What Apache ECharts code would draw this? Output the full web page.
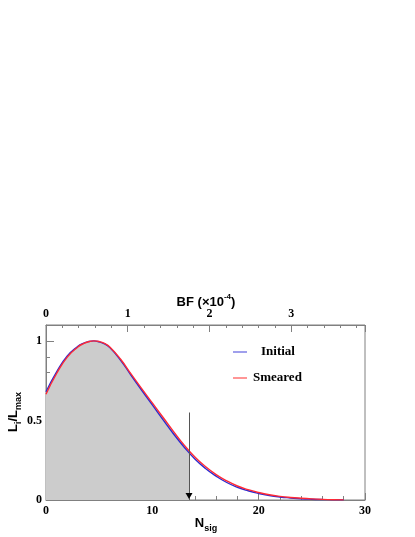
<!DOCTYPE html>
<html>
<head>
<meta charset="utf-8">
<script src="https://cdn.jsdelivr.net/npm/echarts@6/dist/echarts.min.js"></script>
<style>
  html, body { margin: 0; padding: 0; background: #fff; }
  #main { width: 415px; height: 537px; }
</style>
</head>
<body>
<div id="main"></div>
<script>
// N_sig sample points
let nSig = [0, 1, 2, 3, 3.5, 4, 4.5, 5, 5.5, 6, 7, 8, 9, 10, 11, 12, 13, 14, 15, 16, 17, 18, 19, 20,
            21, 22, 23, 24, 25, 26, 27, 28];
// L/Lmax, initial likelihood (blue)
let initialL = [0.68, 0.805, 0.905, 0.966, 0.985, 0.996, 1.0, 0.994, 0.981, 0.958, 0.88, 0.784, 0.69, 0.598,
                0.505, 0.415, 0.332, 0.258, 0.198, 0.15, 0.11, 0.08, 0.058, 0.041,
                0.028, 0.019, 0.013, 0.008, 0.005, 0.003, 0.0015, 0.0005];
// L/Lmax, smeared likelihood (red)
let smearedL = [0.665, 0.795, 0.898, 0.962, 0.982, 0.995, 1.0, 0.996, 0.984, 0.962, 0.886, 0.792, 0.70, 0.61,
                0.52, 0.43, 0.345, 0.27, 0.21, 0.16, 0.12, 0.088, 0.065, 0.047,
                0.033, 0.023, 0.016, 0.011, 0.007, 0.004, 0.002, 0.001];

// upper limit marker
let limitN = 13.45;
let limitL = 0.306;     // curve value at the limit
let arrowTop = 0.55;

// BF scale on the top axis (units of 1e-4 per signal event)
let bfPerN = 0.1301;
let xTicks = [0, 10, 20, 30];
let yTicks = [0, 0.5, 1];

let toPairs = (xs, ys) => xs.map((x, i) => [x, ys[i]]);
let initialData = toPairs(nSig, initialL);
let smearedData = toPairs(nSig, smearedL);
let fillData = smearedData.filter(p => p[0] <= limitN).concat([[limitN, limitL]]);

let frameColor = '#808080';
let serifLabel = { color: '#000', fontFamily: 'Liberation Serif', fontWeight: 'bold', fontSize: 12 };

let option = {
    backgroundColor: '#fff',
    animation: false,
    grid: {
        left: 46, right: 50, top: 325, bottom: 37,
        show: true, borderColor: frameColor, borderWidth: 1
    },
    xAxis: [
        {
            type: 'value', position: 'bottom',
            min: xTicks[0], max: xTicks[xTicks.length - 1], interval: 10,
            axisLine: { lineStyle: { color: frameColor, width: 1 } },
            axisTick: { inside: true, length: 7, lineStyle: { color: frameColor } },
            minorTick: { show: true, splitNumber: 5, length: 4, lineStyle: { color: frameColor } },
            splitLine: { show: false },
            axisLabel: Object.assign({ margin: 5 }, serifLabel)
        },
        {
            type: 'value', position: 'top',
            min: 0, max: xTicks[xTicks.length - 1] * bfPerN, interval: 1,
            axisLine: { lineStyle: { color: frameColor, width: 1 } },
            axisTick: { inside: true, length: 7, lineStyle: { color: frameColor } },
            minorTick: { show: true, splitNumber: 5, length: 3, lineStyle: { color: frameColor } },
            splitLine: { show: false },
            axisLabel: Object.assign({ margin: 5, showMaxLabel: false }, serifLabel)
        }
    ],
    yAxis: {
        type: 'value', min: yTicks[0], max: 1.1, interval: 0.5,
        axisLine: { show: true, lineStyle: { color: frameColor, width: 1 } },
        axisTick: { inside: true, length: 8, lineStyle: { color: frameColor } },
        minorTick: { show: true, splitNumber: 5, length: 4, lineStyle: { color: frameColor } },
        splitLine: { show: false },
        axisLabel: Object.assign({
            margin: 4, showMaxLabel: false,
            formatter: v => (yTicks.indexOf(v) >= 0 ? String(v) : '')
        }, serifLabel)
    },
    series: [
        {
            // shaded area up to the limit
            type: 'line', data: fillData, smooth: 0.5,
            symbol: 'none', lineStyle: { width: 0 },
            areaStyle: { color: '#cccccc', opacity: 1 },
            z: 1,
            markLine: {
                silent: true, animation: false,
                symbol: ['none', 'none'],
                label: { show: false },
                lineStyle: { color: '#555', width: 1, type: 'solid' },
                data: [[{ coord: [limitN, arrowTop] }, { coord: [limitN, 0] }]]
            },
            markPoint: {
                silent: true, animation: false,
                symbol: 'triangle', symbolRotate: 180, symbolSize: [7, 6], symbolOffset: [0, -4],
                itemStyle: { color: '#000' },
                label: { show: false },
                data: [{ coord: [limitN, 0] }]
            }
        },
        {
            name: 'Initial', type: 'line', data: initialData, smooth: 0.5,
            symbol: 'none', lineStyle: { color: '#2a2ad0', width: 1.4 }, z: 3
        },
        {
            name: 'Smeared', type: 'line', data: smearedData, smooth: 0.5,
            symbol: 'none', lineStyle: { color: '#ff2a35', width: 1.4 }, z: 4
        }
    ],
    graphic: [
        // legend
        { type: 'line', shape: { x1: 233, y1: 352, x2: 247, y2: 352 }, style: { stroke: '#6060e0', lineWidth: 1.2 } },
        { type: 'text', x: 261, y: 352, style: { text: 'Initial', font: 'bold 13px "Liberation Serif"', fill: '#000', verticalAlign: 'middle' } },
        { type: 'line', shape: { x1: 233, y1: 378, x2: 247, y2: 378 }, style: { stroke: '#ff5050', lineWidth: 1.2 } },
        { type: 'text', x: 253, y: 378, style: { text: 'Smeared', font: 'bold 13px "Liberation Serif"', fill: '#000', verticalAlign: 'middle' } },
        // axis titles
        {
            type: 'text', x: 206, y: 301,
            style: {
                text: '{a|BF (×10}{s|-4}{a|)}', align: 'center', verticalAlign: 'middle',
                rich: {
                    a: { fontFamily: 'Liberation Sans', fontWeight: 'bold', fontSize: 13, lineHeight: 16, verticalAlign: 'bottom', fill: '#000' },
                    s: { fontFamily: 'Liberation Sans', fontWeight: 'bold', fontSize: 8, lineHeight: 9, verticalAlign: 'top', fill: '#000' }
                }
            }
        },
        {
            type: 'text', x: 206, y: 525,
            style: {
                text: '{a|N}{s|sig}', align: 'center', verticalAlign: 'middle',
                rich: {
                    a: { fontFamily: 'Liberation Sans', fontWeight: 'bold', fontSize: 13, lineHeight: 16, verticalAlign: 'top', fill: '#000' },
                    s: { fontFamily: 'Liberation Sans', fontWeight: 'bold', fontSize: 9, lineHeight: 10, verticalAlign: 'bottom', fill: '#000' }
                }
            }
        },
        {
            type: 'text', x: 15, y: 412, rotation: Math.PI / 2,
            style: {
                text: '{a|L}{s|i}{a|/L}{s|max}', align: 'center', verticalAlign: 'middle',
                rich: {
                    a: { fontFamily: 'Liberation Sans', fontWeight: 'bold', fontSize: 13, lineHeight: 16, verticalAlign: 'top', fill: '#000' },
                    s: { fontFamily: 'Liberation Sans', fontWeight: 'bold', fontSize: 9, lineHeight: 10, verticalAlign: 'bottom', fill: '#000' }
                }
            }
        }
    ]
};

let chart = echarts.init(document.getElementById('main'));
chart.setOption(option);
</script>
</body>
</html>
